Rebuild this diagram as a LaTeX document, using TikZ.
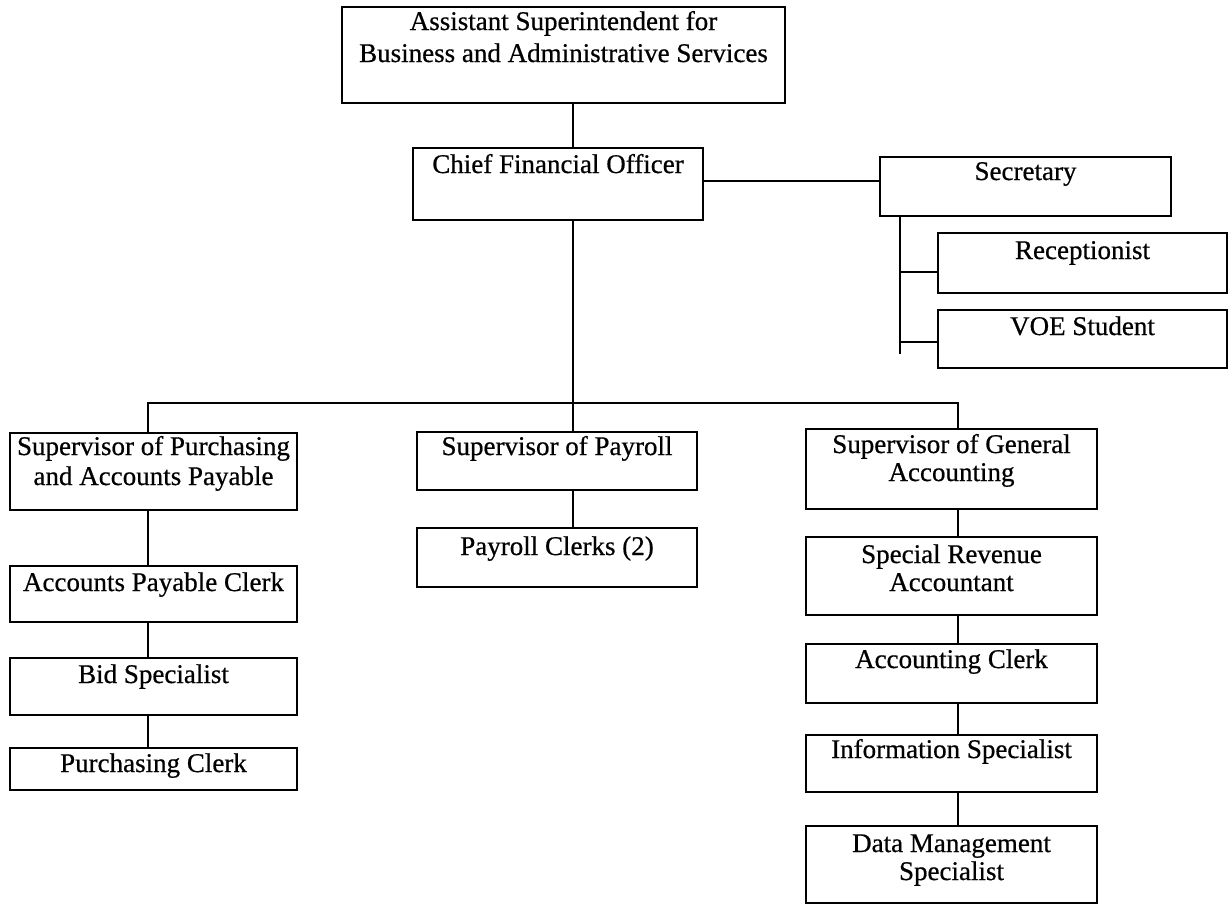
\documentclass[tikz,border=0pt]{standalone}
\usepackage{fontspec}
\setmainfont{Liberation Serif}
\newfontfamily\orgfont[FakeBold=0.6]{Liberation Serif}
\tikzset{
  orgbox/.style={draw=black, line width=2.2pt, inner sep=0pt, outer sep=0pt},
  orgtext/.style={font=\orgfont\fontsize{27}{31}\selectfont, anchor=base, inner sep=0pt},
  link/.style={draw=black, line width=2pt},
}
% box: name, x1, y1, x2, y2
\newcommand\orgnode[5]{\node[orgbox, minimum width={#4-#2}, minimum height={#5-#3}] (#1) at ({(#2+#4)/2},{(#3+#5)/2}) {};}
% text line: name, box name, baseline y, text
\newcommand\orgline[4]{\node[orgtext] (#1) at (#2.center |- {(0,#3)}) {#4};}
\begin{document}
\begin{tikzpicture}[x=1pt,y=-1pt]
\useasboundingbox (0,0) rectangle (1230,906);
\fill[white] (0,0) rectangle (1230,906);

% boxes
\orgnode{top}{342}{7}{785}{103}
\orgnode{cfo}{413}{148}{703}{220}
\orgnode{sec}{880}{157}{1171}{216}
\orgnode{rec}{938}{233}{1227}{293}
\orgnode{voe}{938}{310}{1227}{368}
\orgnode{sp}{10}{433}{297}{510}
\orgnode{apc}{10}{566}{297}{622}
\orgnode{bid}{10}{658}{297}{715}
\orgnode{pc}{10}{748}{297}{790}
\orgnode{psup}{417}{432}{697}{490}
\orgnode{pcl}{417}{528}{697}{587}
\orgnode{ga}{806}{429}{1097}{509}
\orgnode{sra}{806}{537}{1097}{615}
\orgnode{acl}{806}{644}{1097}{703}
\orgnode{info}{806}{735}{1097}{792}
\orgnode{dms}{806}{826}{1097}{903}

% texts
\orgline{top-t1}{top}{30}{Assistant Superintendent for}
\orgline{top-t2}{top}{62}{Business and Administrative Services}
\orgline{cfo-t}{cfo}{173}{Chief Financial Officer}
\orgline{sec-t}{sec}{180}{Secretary}
\orgline{rec-t}{rec}{259}{Receptionist}
\orgline{voe-t}{voe}{335}{VOE Student}
\orgline{sp-t1}{sp}{455}{Supervisor of Purchasing}
\orgline{sp-t2}{sp}{485}{and Accounts Payable}
\orgline{apc-t}{apc}{591}{Accounts Payable Clerk}
\orgline{bid-t}{bid}{683}{Bid Specialist}
\orgline{pc-t}{pc}{772}{Purchasing Clerk}
\orgline{psup-t}{psup}{455}{Supervisor of Payroll}
\orgline{pcl-t}{pcl}{555}{Payroll Clerks (2)}
\orgline{ga-t1}{ga}{453}{Supervisor of General}
\orgline{ga-t2}{ga}{481}{Accounting}
\orgline{sra-t1}{sra}{563}{Special Revenue}
\orgline{sra-t2}{sra}{591}{Accountant}
\orgline{acl-t}{acl}{668}{Accounting Clerk}
\orgline{info-t}{info}{758}{Information Specialist}
\orgline{dms-t1}{dms}{852}{Data Management}
\orgline{dms-t2}{dms}{880}{Specialist}

% reference coordinates for connector lines
\coordinate (xm) at (573,0);
\coordinate (xl) at (148,0);
\coordinate (xr) at (958,0);
\coordinate (xs) at (900,0);
\coordinate (ysec) at (0,181);
\coordinate (bus) at (0,403);
\coordinate (yrec) at (0,272);
\coordinate (yvoe) at (0,342);
\coordinate (send) at (900,354);

% connectors
\draw[link] (xm |- top.south) -- (xm |- cfo.north);
\draw[link] (cfo.east |- ysec) -- (sec.west |- ysec);
\draw[link] (xm |- cfo.south) -- (xm |- psup.north);
\draw[link] (xl |- sp.north) -- (xl |- bus) -- (xr |- bus) -- (xr |- ga.north);
\draw[link] (xm |- psup.south) -- (xm |- pcl.north);
\draw[link] (xl |- sp.south) -- (xl |- apc.north);
\draw[link] (xl |- apc.south) -- (xl |- bid.north);
\draw[link] (xl |- bid.south) -- (xl |- pc.north);
\draw[link] (xr |- ga.south) -- (xr |- sra.north);
\draw[link] (xr |- sra.south) -- (xr |- acl.north);
\draw[link] (xr |- acl.south) -- (xr |- info.north);
\draw[link] (xr |- info.south) -- (xr |- dms.north);
\draw[link] (xs |- sec.south) -- (send);
\draw[link] (xs |- yrec) -- (rec.west |- yrec);
\draw[link] (xs |- yvoe) -- (voe.west |- yvoe);
\end{tikzpicture}
\end{document}
